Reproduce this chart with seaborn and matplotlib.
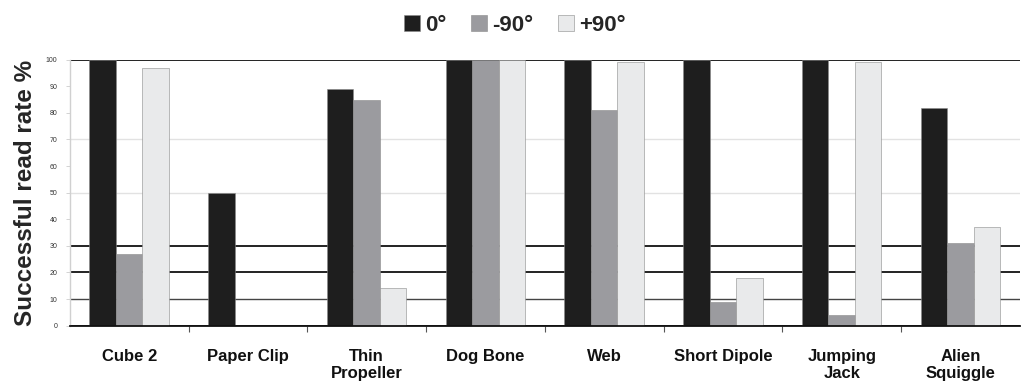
import matplotlib
matplotlib.use("Agg")
import matplotlib.pyplot as plt
import pandas as pd
import seaborn as sns

shapes = ["Cube 2", "Paper Clip", "Thin\nPropeller", "Dog Bone", "Web",
          "Short Dipole", "Jumping\nJack", "Alien\nSquiggle"]
angles = ["0°", "-90°", "+90°"]
rate_0 = [100, 50, 89, 100, 100, 100, 100, 82]
rate_m90 = [27, 0, 85, 100, 81, 9, 4, 31]
rate_p90 = [97, 0, 14, 100, 99, 18, 99, 37]
colors = ["#1e1e1e", "#9b9b9f", "#e9eaeb"]
y_ticks = [0, 10, 20, 30, 40, 50, 60, 70, 80, 90, 100]
grid_dark = [0, 20, 30, 100]
grid_mid = [10]
grid_light = [50, 70]


def main():
    rows = []
    for a, vals in zip(angles, [rate_0, rate_m90, rate_p90]):
        for s, v in zip(shapes, vals):
            rows.append({"shape": s, "angle": a, "rate": v})
    df = pd.DataFrame(rows)

    sns.set_style("white")
    plt.rcParams["font.family"] = ["Liberation Sans", "DejaVu Sans"]

    fig = plt.figure(figsize=(10.26, 3.9), dpi=100)
    ax = fig.add_axes([0.068, 0.165, 0.926, 0.682])

    for y in grid_dark:
        ax.axhline(y, color="#111111", lw=1.3, zorder=0)
    for y in grid_mid:
        ax.axhline(y, color="#444444", lw=1.0, zorder=0)
    for y in grid_light:
        ax.axhline(y, color="#e2e2e2", lw=1.0, zorder=0)

    sns.barplot(data=df, x="shape", y="rate", hue="angle", order=shapes,
                hue_order=angles, palette=colors, width=0.67, gap=0,
                edgecolor="#8a8a8a", linewidth=0.4, ax=ax, zorder=2)

    ax.set_ylim(0, 100)
    ax.set_xlim(-0.5, len(shapes) - 0.5)
    ax.set_yticks(y_ticks)
    ax.set_yticklabels([str(t) for t in y_ticks], fontsize=5, color="#333333")
    ax.tick_params(axis="y", length=3, width=0.6, color="#cccccc", pad=6, left=True)
    ax.set_xticks(range(len(shapes)))
    ax.set_xticklabels(shapes, fontsize=12, fontweight="bold", color="#111111",
                       linespacing=1.15)
    ax.tick_params(axis="x", length=0, pad=17)
    ax.set_xticks([i + 0.5 for i in range(len(shapes) - 1)], minor=True)
    ax.tick_params(axis="x", which="minor", length=4, width=0.8, color="#555555", bottom=True)

    ax.set_xlabel("")
    ax.set_ylabel("Successful read rate %", fontsize=17.5, fontweight="bold", labelpad=6)

    for side in ["top", "right"]:
        ax.spines[side].set_visible(False)
    ax.spines["left"].set_color("#d0d0d0")
    ax.spines["left"].set_linewidth(1.0)
    ax.spines["bottom"].set_color("#111111")
    ax.spines["bottom"].set_linewidth(1.3)

    handles, labels = ax.get_legend_handles_labels()
    ax.get_legend().remove()
    fig.legend(handles, labels, loc="center", bbox_to_anchor=(0.502, 0.935), ncol=3,
               frameon=False, prop={"weight": "bold", "size": 16},
               handlelength=0.7, handleheight=0.7, handletextpad=0.25, columnspacing=1.1)

    fig.savefig("out.png", dpi=100)


if __name__ == "__main__":
    main()
